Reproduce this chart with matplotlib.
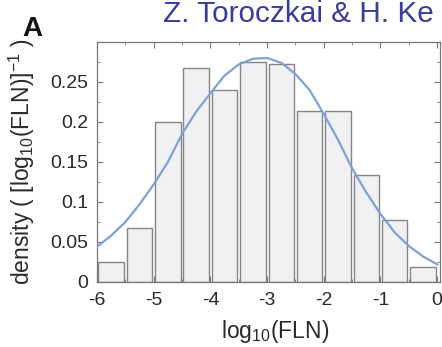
import matplotlib
matplotlib.use('Agg')  # no display
import matplotlib.pyplot as plt  # import pyplot submodule of matplotlib library
from matplotlib.ticker import MultipleLocator, FormatStrFormatter

# data

bin_centers = [-5.75, -5.25, -4.75, -4.25, -3.75, -3.25, -2.75, -2.25, -1.75, -1.25, -0.75, -0.25]  # log10(FLN) bin centres
bin_density = [0.025, 0.068, 0.200, 0.267, 0.240, 0.275, 0.273, 0.214, 0.214, 0.134, 0.077, 0.019]  # histogram heights

fit_x = [-6.0, -5.75, -5.5, -5.25, -5.0, -4.75, -4.5, -4.25, -4.0, -3.75, -3.5, -3.25, -3.0,
         -2.75, -2.5, -2.25, -2.0, -1.75, -1.5, -1.25, -1.0, -0.75, -0.5, -0.25, 0.0]  # fitted curve, x
fit_y = [0.044, 0.058, 0.075, 0.097, 0.122, 0.150, 0.185, 0.213, 0.236, 0.258, 0.272, 0.279, 0.280,
         0.274, 0.260, 0.240, 0.210, 0.178, 0.142, 0.112, 0.085, 0.062, 0.045, 0.032, 0.022]  # fitted curve, y

x_ticks = [-6, -5, -4, -3, -2, -1, 0]
y_ticks = [0, 0.05, 0.1, 0.15, 0.2, 0.25]

# style

plt.rcParams['font.family'] = ['Liberation Sans', 'DejaVu Sans']
plt.rcParams['mathtext.default'] = 'regular'  # subscripts in the text font
plt.rcParams['axes.unicode_minus'] = False  # plain hyphen for negative ticks

fig = plt.figure(figsize=(4.42, 3.47), dpi=100)  # 442 x 347 px
ax = fig.add_axes([97 / 442, 1 - 282 / 347, 343 / 442, 240 / 347])

# histogram bars and fitted curve
ax.bar(bin_centers, bin_density, width=0.45, color='#f1f1f3', edgecolor='#858585', linewidth=1.0, zorder=2)
ax.plot(fit_x, fit_y, color='#7fa2d4', linewidth=1.6, zorder=3)

ax.set_xlim(-6, 0.05)
ax.set_ylim(0, 0.30)
ax.set_xticks(x_ticks)
ax.set_yticks(y_ticks)
ax.xaxis.set_minor_locator(MultipleLocator(0.5))
ax.yaxis.set_minor_locator(MultipleLocator(0.025))
ax.yaxis.set_major_formatter(FormatStrFormatter('%g'))

# matlab-like box: ticks inside on all four sides
ax.tick_params(which='both', direction='in', top=True, right=True, color='#777777')
ax.tick_params(which='major', length=4, width=0.8, labelsize=14, labelcolor='#2a2a2a')
ax.tick_params(which='minor', length=2.5, width=0.6)
ax.tick_params(axis='x', which='major', pad=7)
ax.tick_params(axis='y', which='major', pad=6.5)
for s in ax.spines.values():
    s.set_color('#777777')
    s.set_linewidth(0.9)

# add labels
ax.set_xlabel('log$_{10}$(FLN)', fontsize=16.5, color='#2a2a2a')
ax.xaxis.set_label_coords(0.519, -0.15)
ax.set_ylabel('density ( [log$_{10}$(FLN)]$^{-1}$ )', fontsize=16.5, color='#2a2a2a')
ax.yaxis.set_label_coords(-0.175, 0.5)

fig.text(163 / 442, 1 - 22 / 347, 'Z. Toroczkai & H. Ke', fontsize=21.4, color='#3a3d9c', va='baseline')  # header
fig.text(22 / 442, 1 - 36 / 347, 'A', fontsize=20, fontweight='bold', color='#111111', va='baseline')  # panel letter

plt.savefig('out.png', dpi=100)  # save figure
